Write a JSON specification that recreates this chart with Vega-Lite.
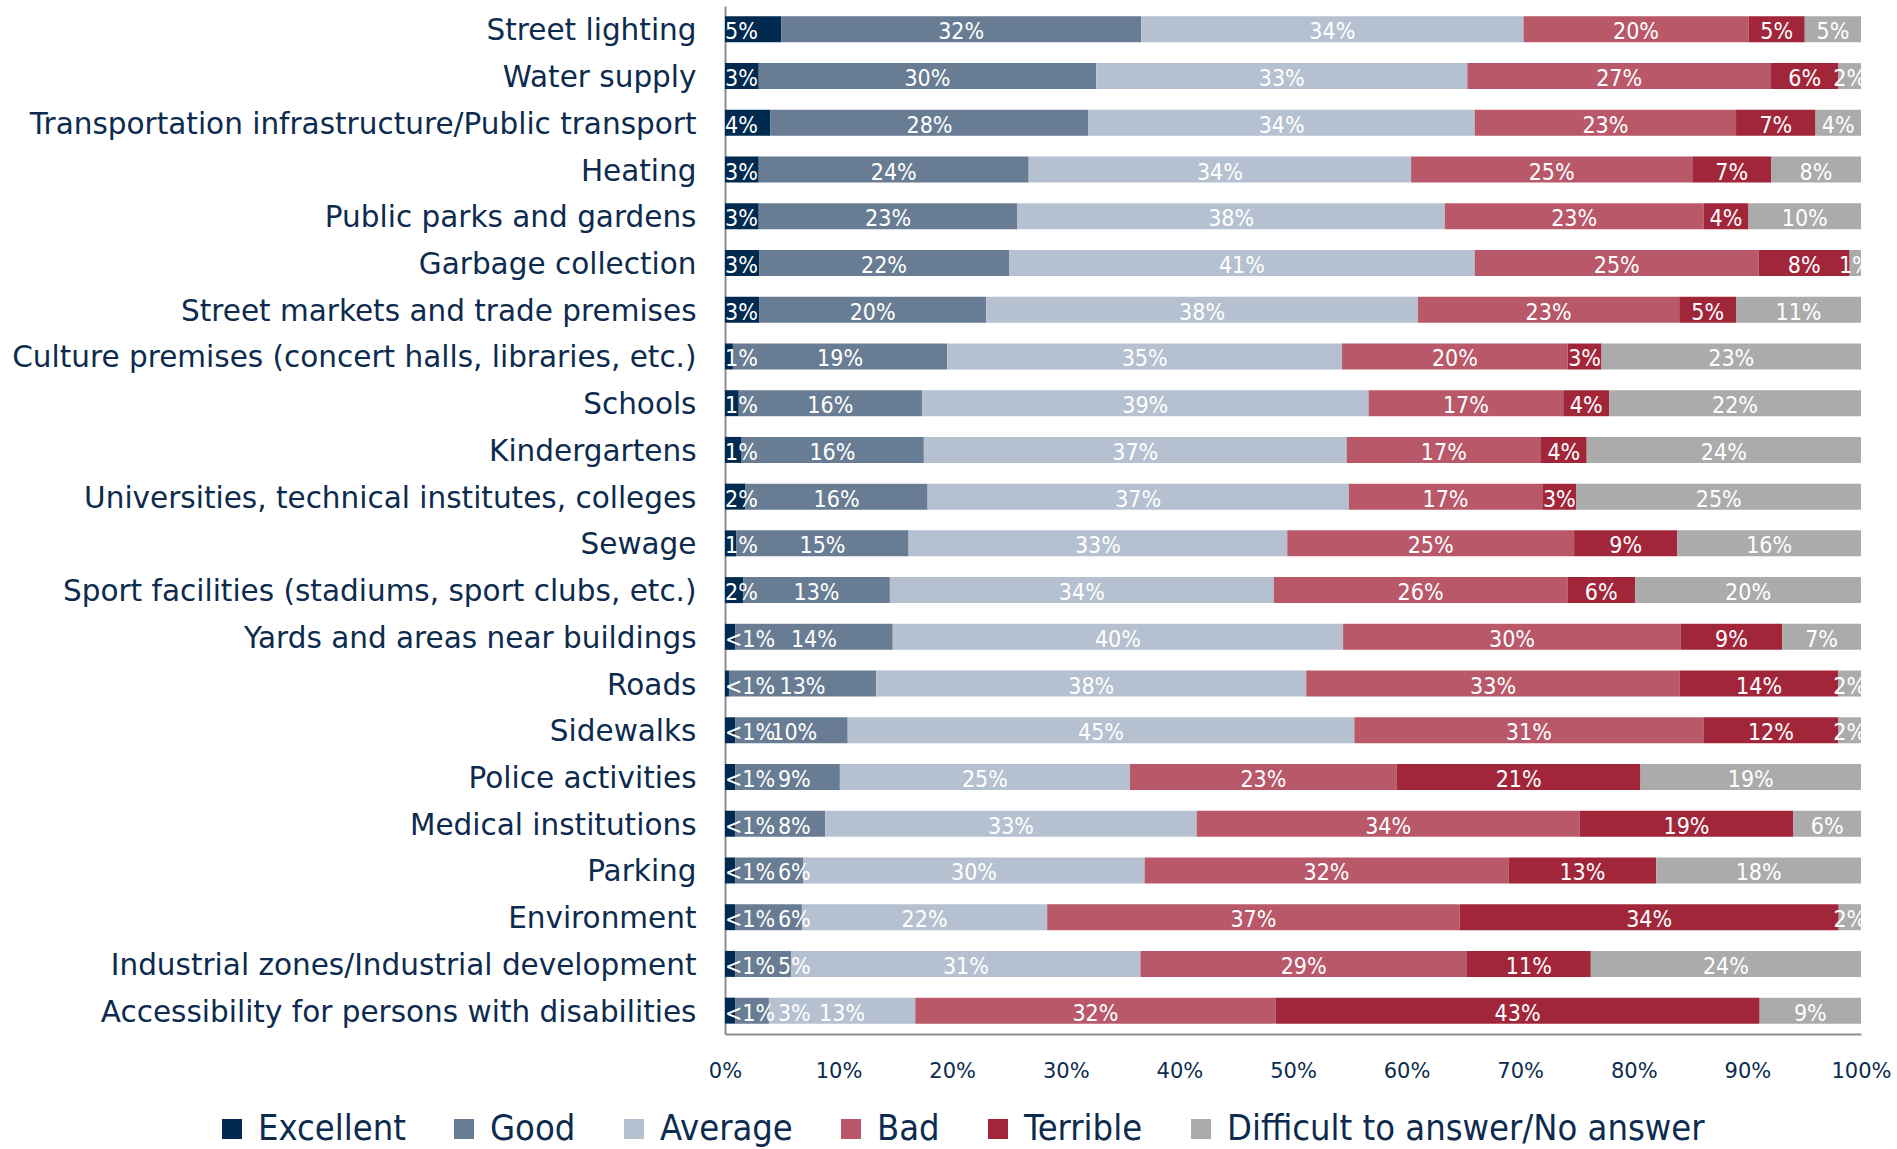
{
  "$schema": "https://vega.github.io/schema/vega-lite/v6.json",
  "width": 1136,
  "height": 1028,
  "autosize": "none",
  "padding": {"left": 725, "top": 6, "right": 36, "bottom": 115},
  "background": "white",
  "config": {
    "view": {"stroke": null},
    "font": "DejaVu Sans"
  },
  "data": {"values": [
    {"item":"Street lighting","rating":"Excellent","order":1,"value":5,"label":"5%"},
    {"item":"Street lighting","rating":"Good","order":2,"value":32,"label":"32%"},
    {"item":"Street lighting","rating":"Average","order":3,"value":34,"label":"34%"},
    {"item":"Street lighting","rating":"Bad","order":4,"value":20,"label":"20%"},
    {"item":"Street lighting","rating":"Terrible","order":5,"value":5,"label":"5%"},
    {"item":"Street lighting","rating":"Difficult to answer/No answer","order":6,"value":5,"label":"5%"},
    {"item":"Water supply","rating":"Excellent","order":1,"value":3,"label":"3%"},
    {"item":"Water supply","rating":"Good","order":2,"value":30,"label":"30%"},
    {"item":"Water supply","rating":"Average","order":3,"value":33,"label":"33%"},
    {"item":"Water supply","rating":"Bad","order":4,"value":27,"label":"27%"},
    {"item":"Water supply","rating":"Terrible","order":5,"value":6,"label":"6%"},
    {"item":"Water supply","rating":"Difficult to answer/No answer","order":6,"value":2,"label":"2%"},
    {"item":"Transportation infrastructure/Public transport","rating":"Excellent","order":1,"value":4,"label":"4%"},
    {"item":"Transportation infrastructure/Public transport","rating":"Good","order":2,"value":28,"label":"28%"},
    {"item":"Transportation infrastructure/Public transport","rating":"Average","order":3,"value":34,"label":"34%"},
    {"item":"Transportation infrastructure/Public transport","rating":"Bad","order":4,"value":23,"label":"23%"},
    {"item":"Transportation infrastructure/Public transport","rating":"Terrible","order":5,"value":7,"label":"7%"},
    {"item":"Transportation infrastructure/Public transport","rating":"Difficult to answer/No answer","order":6,"value":4,"label":"4%"},
    {"item":"Heating","rating":"Excellent","order":1,"value":3,"label":"3%"},
    {"item":"Heating","rating":"Good","order":2,"value":24,"label":"24%"},
    {"item":"Heating","rating":"Average","order":3,"value":34,"label":"34%"},
    {"item":"Heating","rating":"Bad","order":4,"value":25,"label":"25%"},
    {"item":"Heating","rating":"Terrible","order":5,"value":7,"label":"7%"},
    {"item":"Heating","rating":"Difficult to answer/No answer","order":6,"value":8,"label":"8%"},
    {"item":"Public parks and gardens","rating":"Excellent","order":1,"value":3,"label":"3%"},
    {"item":"Public parks and gardens","rating":"Good","order":2,"value":23,"label":"23%"},
    {"item":"Public parks and gardens","rating":"Average","order":3,"value":38,"label":"38%"},
    {"item":"Public parks and gardens","rating":"Bad","order":4,"value":23,"label":"23%"},
    {"item":"Public parks and gardens","rating":"Terrible","order":5,"value":4,"label":"4%"},
    {"item":"Public parks and gardens","rating":"Difficult to answer/No answer","order":6,"value":10,"label":"10%"},
    {"item":"Garbage collection","rating":"Excellent","order":1,"value":3,"label":"3%"},
    {"item":"Garbage collection","rating":"Good","order":2,"value":22,"label":"22%"},
    {"item":"Garbage collection","rating":"Average","order":3,"value":41,"label":"41%"},
    {"item":"Garbage collection","rating":"Bad","order":4,"value":25,"label":"25%"},
    {"item":"Garbage collection","rating":"Terrible","order":5,"value":8,"label":"8%"},
    {"item":"Garbage collection","rating":"Difficult to answer/No answer","order":6,"value":1,"label":"1%"},
    {"item":"Street markets and trade premises","rating":"Excellent","order":1,"value":3,"label":"3%"},
    {"item":"Street markets and trade premises","rating":"Good","order":2,"value":20,"label":"20%"},
    {"item":"Street markets and trade premises","rating":"Average","order":3,"value":38,"label":"38%"},
    {"item":"Street markets and trade premises","rating":"Bad","order":4,"value":23,"label":"23%"},
    {"item":"Street markets and trade premises","rating":"Terrible","order":5,"value":5,"label":"5%"},
    {"item":"Street markets and trade premises","rating":"Difficult to answer/No answer","order":6,"value":11,"label":"11%"},
    {"item":"Culture premises (concert halls, libraries, etc.)","rating":"Excellent","order":1,"value":0.7,"label":"1%"},
    {"item":"Culture premises (concert halls, libraries, etc.)","rating":"Good","order":2,"value":19,"label":"19%"},
    {"item":"Culture premises (concert halls, libraries, etc.)","rating":"Average","order":3,"value":35,"label":"35%"},
    {"item":"Culture premises (concert halls, libraries, etc.)","rating":"Bad","order":4,"value":20,"label":"20%"},
    {"item":"Culture premises (concert halls, libraries, etc.)","rating":"Terrible","order":5,"value":3,"label":"3%"},
    {"item":"Culture premises (concert halls, libraries, etc.)","rating":"Difficult to answer/No answer","order":6,"value":23,"label":"23%"},
    {"item":"Schools","rating":"Excellent","order":1,"value":1.2,"label":"1%"},
    {"item":"Schools","rating":"Good","order":2,"value":16,"label":"16%"},
    {"item":"Schools","rating":"Average","order":3,"value":39,"label":"39%"},
    {"item":"Schools","rating":"Bad","order":4,"value":17,"label":"17%"},
    {"item":"Schools","rating":"Terrible","order":5,"value":4,"label":"4%"},
    {"item":"Schools","rating":"Difficult to answer/No answer","order":6,"value":22,"label":"22%"},
    {"item":"Kindergartens","rating":"Excellent","order":1,"value":1.4,"label":"1%"},
    {"item":"Kindergartens","rating":"Good","order":2,"value":16,"label":"16%"},
    {"item":"Kindergartens","rating":"Average","order":3,"value":37,"label":"37%"},
    {"item":"Kindergartens","rating":"Bad","order":4,"value":17,"label":"17%"},
    {"item":"Kindergartens","rating":"Terrible","order":5,"value":4,"label":"4%"},
    {"item":"Kindergartens","rating":"Difficult to answer/No answer","order":6,"value":24,"label":"24%"},
    {"item":"Universities, technical institutes, colleges","rating":"Excellent","order":1,"value":1.8,"label":"2%"},
    {"item":"Universities, technical institutes, colleges","rating":"Good","order":2,"value":16,"label":"16%"},
    {"item":"Universities, technical institutes, colleges","rating":"Average","order":3,"value":37,"label":"37%"},
    {"item":"Universities, technical institutes, colleges","rating":"Bad","order":4,"value":17,"label":"17%"},
    {"item":"Universities, technical institutes, colleges","rating":"Terrible","order":5,"value":3,"label":"3%"},
    {"item":"Universities, technical institutes, colleges","rating":"Difficult to answer/No answer","order":6,"value":25,"label":"25%"},
    {"item":"Sewage","rating":"Excellent","order":1,"value":1,"label":"1%"},
    {"item":"Sewage","rating":"Good","order":2,"value":15,"label":"15%"},
    {"item":"Sewage","rating":"Average","order":3,"value":33,"label":"33%"},
    {"item":"Sewage","rating":"Bad","order":4,"value":25,"label":"25%"},
    {"item":"Sewage","rating":"Terrible","order":5,"value":9,"label":"9%"},
    {"item":"Sewage","rating":"Difficult to answer/No answer","order":6,"value":16,"label":"16%"},
    {"item":"Sport facilities (stadiums, sport clubs, etc.)","rating":"Excellent","order":1,"value":1.6,"label":"2%"},
    {"item":"Sport facilities (stadiums, sport clubs, etc.)","rating":"Good","order":2,"value":13,"label":"13%"},
    {"item":"Sport facilities (stadiums, sport clubs, etc.)","rating":"Average","order":3,"value":34,"label":"34%"},
    {"item":"Sport facilities (stadiums, sport clubs, etc.)","rating":"Bad","order":4,"value":26,"label":"26%"},
    {"item":"Sport facilities (stadiums, sport clubs, etc.)","rating":"Terrible","order":5,"value":6,"label":"6%"},
    {"item":"Sport facilities (stadiums, sport clubs, etc.)","rating":"Difficult to answer/No answer","order":6,"value":20,"label":"20%"},
    {"item":"Yards and areas near buildings","rating":"Excellent","order":1,"value":0.9,"label":"<1%"},
    {"item":"Yards and areas near buildings","rating":"Good","order":2,"value":14,"label":"14%"},
    {"item":"Yards and areas near buildings","rating":"Average","order":3,"value":40,"label":"40%"},
    {"item":"Yards and areas near buildings","rating":"Bad","order":4,"value":30,"label":"30%"},
    {"item":"Yards and areas near buildings","rating":"Terrible","order":5,"value":9,"label":"9%"},
    {"item":"Yards and areas near buildings","rating":"Difficult to answer/No answer","order":6,"value":7,"label":"7%"},
    {"item":"Roads","rating":"Excellent","order":1,"value":0.35,"label":"<1%"},
    {"item":"Roads","rating":"Good","order":2,"value":13,"label":"13%"},
    {"item":"Roads","rating":"Average","order":3,"value":38,"label":"38%"},
    {"item":"Roads","rating":"Bad","order":4,"value":33,"label":"33%"},
    {"item":"Roads","rating":"Terrible","order":5,"value":14,"label":"14%"},
    {"item":"Roads","rating":"Difficult to answer/No answer","order":6,"value":2,"label":"2%"},
    {"item":"Sidewalks","rating":"Excellent","order":1,"value":0.9,"label":"<1%"},
    {"item":"Sidewalks","rating":"Good","order":2,"value":10,"label":"10%"},
    {"item":"Sidewalks","rating":"Average","order":3,"value":45,"label":"45%"},
    {"item":"Sidewalks","rating":"Bad","order":4,"value":31,"label":"31%"},
    {"item":"Sidewalks","rating":"Terrible","order":5,"value":12,"label":"12%"},
    {"item":"Sidewalks","rating":"Difficult to answer/No answer","order":6,"value":2,"label":"2%"},
    {"item":"Police activities","rating":"Excellent","order":1,"value":0.9,"label":"<1%"},
    {"item":"Police activities","rating":"Good","order":2,"value":9,"label":"9%"},
    {"item":"Police activities","rating":"Average","order":3,"value":25,"label":"25%"},
    {"item":"Police activities","rating":"Bad","order":4,"value":23,"label":"23%"},
    {"item":"Police activities","rating":"Terrible","order":5,"value":21,"label":"21%"},
    {"item":"Police activities","rating":"Difficult to answer/No answer","order":6,"value":19,"label":"19%"},
    {"item":"Medical institutions","rating":"Excellent","order":1,"value":0.9,"label":"<1%"},
    {"item":"Medical institutions","rating":"Good","order":2,"value":8,"label":"8%"},
    {"item":"Medical institutions","rating":"Average","order":3,"value":33,"label":"33%"},
    {"item":"Medical institutions","rating":"Bad","order":4,"value":34,"label":"34%"},
    {"item":"Medical institutions","rating":"Terrible","order":5,"value":19,"label":"19%"},
    {"item":"Medical institutions","rating":"Difficult to answer/No answer","order":6,"value":6,"label":"6%"},
    {"item":"Parking","rating":"Excellent","order":1,"value":0.9,"label":"<1%"},
    {"item":"Parking","rating":"Good","order":2,"value":6,"label":"6%"},
    {"item":"Parking","rating":"Average","order":3,"value":30,"label":"30%"},
    {"item":"Parking","rating":"Bad","order":4,"value":32,"label":"32%"},
    {"item":"Parking","rating":"Terrible","order":5,"value":13,"label":"13%"},
    {"item":"Parking","rating":"Difficult to answer/No answer","order":6,"value":18,"label":"18%"},
    {"item":"Environment","rating":"Excellent","order":1,"value":0.9,"label":"<1%"},
    {"item":"Environment","rating":"Good","order":2,"value":6,"label":"6%"},
    {"item":"Environment","rating":"Average","order":3,"value":22,"label":"22%"},
    {"item":"Environment","rating":"Bad","order":4,"value":37,"label":"37%"},
    {"item":"Environment","rating":"Terrible","order":5,"value":34,"label":"34%"},
    {"item":"Environment","rating":"Difficult to answer/No answer","order":6,"value":2,"label":"2%"},
    {"item":"Industrial zones/Industrial development","rating":"Excellent","order":1,"value":0.9,"label":"<1%"},
    {"item":"Industrial zones/Industrial development","rating":"Good","order":2,"value":5,"label":"5%"},
    {"item":"Industrial zones/Industrial development","rating":"Average","order":3,"value":31,"label":"31%"},
    {"item":"Industrial zones/Industrial development","rating":"Bad","order":4,"value":29,"label":"29%"},
    {"item":"Industrial zones/Industrial development","rating":"Terrible","order":5,"value":11,"label":"11%"},
    {"item":"Industrial zones/Industrial development","rating":"Difficult to answer/No answer","order":6,"value":24,"label":"24%"},
    {"item":"Accessibility for persons with disabilities","rating":"Excellent","order":1,"value":0.9,"label":"<1%"},
    {"item":"Accessibility for persons with disabilities","rating":"Good","order":2,"value":3,"label":"3%"},
    {"item":"Accessibility for persons with disabilities","rating":"Average","order":3,"value":13,"label":"13%"},
    {"item":"Accessibility for persons with disabilities","rating":"Bad","order":4,"value":32,"label":"32%"},
    {"item":"Accessibility for persons with disabilities","rating":"Terrible","order":5,"value":43,"label":"43%"},
    {"item":"Accessibility for persons with disabilities","rating":"Difficult to answer/No answer","order":6,"value":9,"label":"9%"}
  ]},
  "transform": [
    {"stack": "value", "groupby": ["item"], "sort": [{"field": "order", "order": "ascending"}], "offset": "normalize", "as": ["s0", "s1"]},
    {"calculate": "datum.rating === 'Good' ? max((datum.s0 + datum.s1) / 2, 0.061) : (datum.s0 + datum.s1) / 2", "as": "mid"}
  ],
  "encoding": {
    "y": {
      "field": "item", "type": "nominal", "sort": null,
      "scale": {"paddingInner": 0.444, "paddingOuter": 0.222},
      "axis": {
        "title": null, "labelFontSize": 29.5, "labelColor": "#0d2b4e", "labelPadding": 29, "labelOffset": 2,
        "ticks": false, "tickSize": 0, "domainColor": "#8a8d96", "domainWidth": 2, "labelLimit": 800
      }
    }
  },
  "layer": [
    {
      "mark": {"type": "bar"},
      "encoding": {
        "x": {
          "field": "s0", "type": "quantitative",
          "scale": {"domain": [0, 1], "nice": false},
          "axis": {
            "title": null, "format": ".0%", "values": [0, 0.1, 0.2, 0.3, 0.4, 0.5, 0.6, 0.7, 0.8, 0.9, 1],
            "grid": false, "ticks": false, "tickSize": 0, "labelPadding": 26, "labelFontSize": 21,
            "labelColor": "#0d2b4e", "domainColor": "#8a8d96", "domainWidth": 2, "labelFlush": false
          }
        },
        "x2": {"field": "s1"},
        "color": {
          "field": "rating", "type": "nominal",
          "scale": {
            "domain": ["Excellent", "Good", "Average", "Bad", "Terrible", "Difficult to answer/No answer"],
            "range": ["#002a4f", "#687d93", "#b5c0d0", "#b85868", "#a2263a", "#ababab"]
          },
          "legend": {
            "title": null, "orient": "none", "direction": "horizontal",
            "legendX": -511, "legendY": 1105,
            "labelFont": "DejaVu Sans Condensed, DejaVu Sans",
            "labelFontSize": 36, "labelColor": "#0d2b4e", "symbolType": "square", "symbolSize": 400,
            "symbolStrokeWidth": 0, "columnPadding": 40, "labelOffset": 8, "labelLimit": 800, "padding": 0
          }
        }
      }
    },
    {
      "transform": [{"filter": "datum.rating === 'Excellent'"}],
      "mark": {"type": "text", "color": "white", "fontSize": 23, "font": "DejaVu Sans Condensed, DejaVu Sans", "baseline": "middle", "align": "left", "dy": 3, "dx": 0},
      "encoding": {
        "x": {"field": "s0", "type": "quantitative"},
        "text": {"field": "label"}
      }
    },
    {
      "transform": [{"filter": "datum.rating !== 'Excellent'"}],
      "mark": {"type": "text", "color": "white", "fontSize": 23, "font": "DejaVu Sans Condensed, DejaVu Sans", "baseline": "middle", "align": "center", "dy": 3},
      "encoding": {
        "x": {"field": "mid", "type": "quantitative"},
        "text": {"field": "label"}
      }
    }
  ]
}
